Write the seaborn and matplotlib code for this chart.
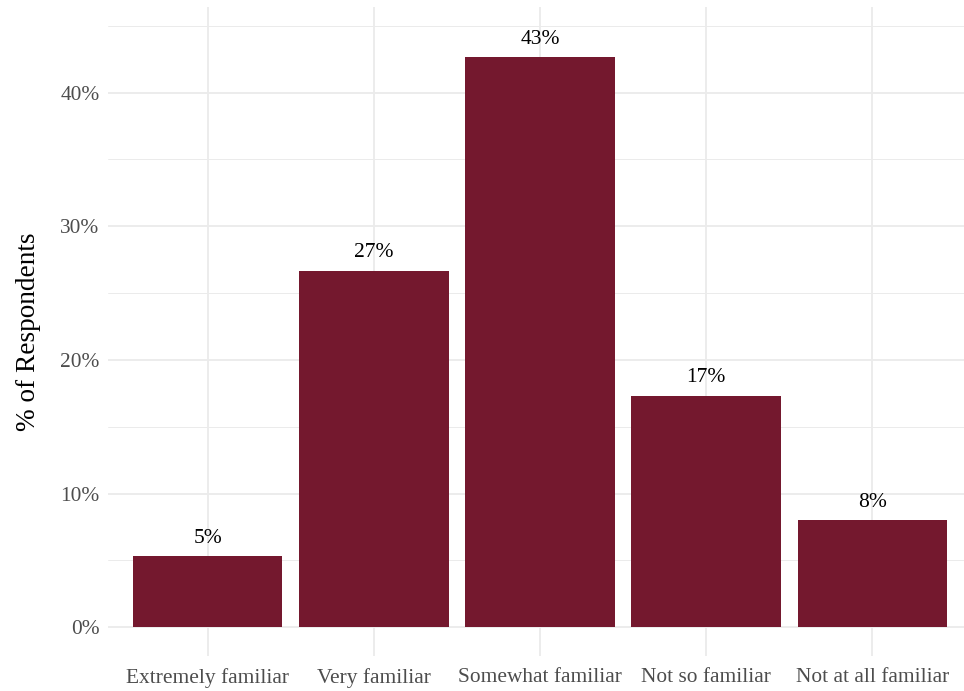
import matplotlib
matplotlib.use("Agg")
import matplotlib.pyplot as plt
from matplotlib.ticker import FuncFormatter, MultipleLocator
import seaborn as sns
import pandas as pd

# Survey responses: familiarity level and share of respondents (%)
categories = ["Extremely familiar", "Very familiar", "Somewhat familiar",
              "Not so familiar", "Not at all familiar"]
shares = [5.33, 26.67, 42.67, 17.33, 8.0]

df = pd.DataFrame({"familiarity": categories, "share": shares})

sns.set_theme(style="white")
plt.rcParams["font.family"] = ["Liberation Serif", "DejaVu Serif"]

bar_color = "#74182E"
grid_color = "#EBEBEB"

fig = plt.figure(figsize=(9.64, 6.91), dpi=100)
ax = fig.add_axes([108 / 964, 35 / 691, (964 - 108) / 964, (656 - 7) / 691])

sns.barplot(data=df, x="familiarity", y="share", order=categories,
            color=bar_color, saturation=1, width=0.9, ax=ax, zorder=3)

for patch in ax.patches:
    patch.set_edgecolor("none")

# value labels above each bar
for i, v in enumerate(shares):
    ax.annotate(f"{v:.0f}%", xy=(i, v), xytext=(0, 6), textcoords="offset points",
                ha="center", va="bottom", fontsize=15.5, color="black", zorder=4)

ax.set_xlim(-0.6, 4.552)
ax.set_ylim(-2.15, 46.4)

ax.yaxis.set_major_locator(MultipleLocator(10))
ax.yaxis.set_minor_locator(MultipleLocator(5))
ax.yaxis.set_major_formatter(FuncFormatter(lambda y, _: f"{y:.0f}%"))

ax.grid(True, which="major", axis="both", color=grid_color, linewidth=1.3, zorder=0)
ax.grid(True, which="minor", axis="y", color=grid_color, linewidth=0.7, zorder=0)
ax.set_axisbelow(True)

for side in ax.spines.values():
    side.set_visible(False)

ax.tick_params(axis="both", which="both", length=0)
ax.tick_params(axis="y", pad=6, labelsize=15.4, labelcolor="#4D4D4D")
ax.tick_params(axis="x", pad=9, labelsize=15.4, labelcolor="#4D4D4D")

ax.set_xlabel("")
ax.set_ylabel("% of Respondents", fontsize=19.6, color="black", labelpad=14)

fig.savefig("out.png", dpi=100)
